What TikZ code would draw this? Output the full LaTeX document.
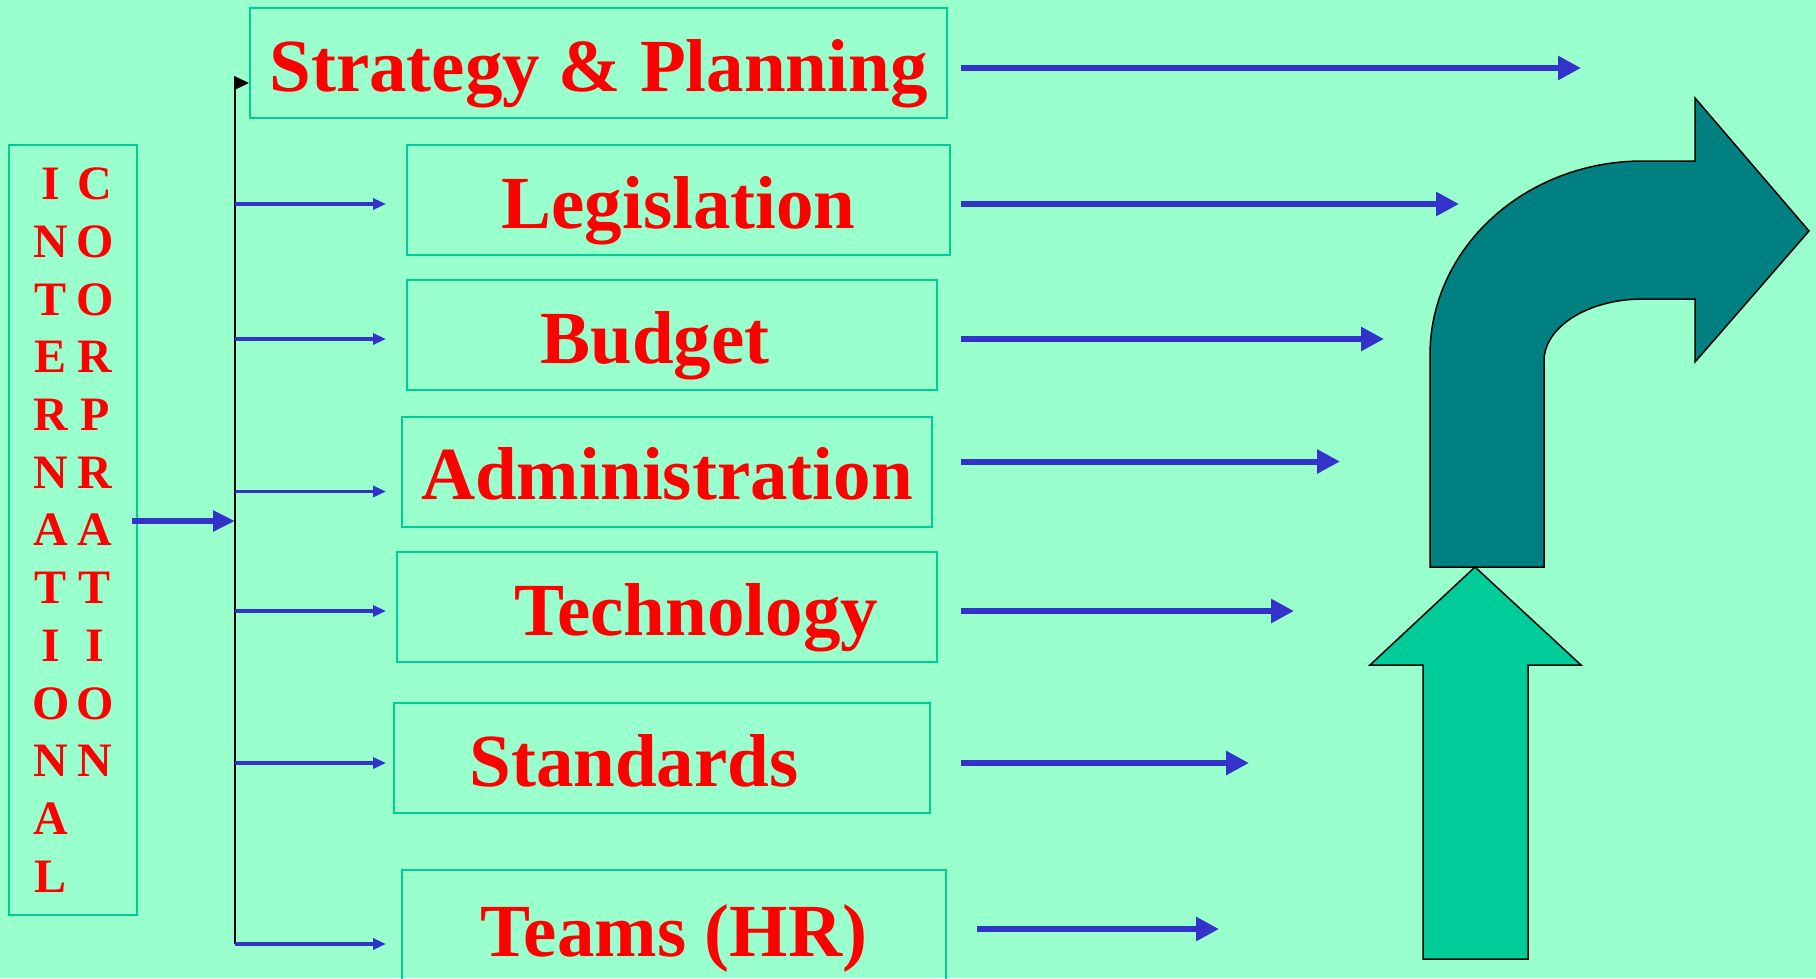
\documentclass[tikz,border=0pt]{standalone}
\usepackage{fontspec}
\setmainfont{Liberation Serif}
\usetikzlibrary{arrows.meta,positioning,calc}
\definecolor{orgbg}{RGB}{153,255,204}
\definecolor{orgframe}{RGB}{0,204,153}
\definecolor{orgtext}{RGB}{255,0,0}
\definecolor{orgflow}{RGB}{51,51,204}
\definecolor{orgturn}{RGB}{0,128,128}
\definecolor{orglift}{RGB}{0,204,153}
\tikzset{
  unit/.style={draw=orgframe,line width=2pt,text=orgtext,inner sep=0pt,
               font=\fontsize{75}{80}\selectfont\bfseries,minimum height=110pt,
               text height=56pt,text depth=0pt},
  spine/.style={draw=orgframe,line width=2pt,text=orgtext,inner sep=0pt,align=center,
               font=\fontsize{48}{57.7}\selectfont\bfseries},
  trunk/.style={-{Triangle[length=15pt,width=14pt]},draw=black,line width=1.5pt},
  branch/.style={-{Triangle[length=13pt,width=11pt]},draw=orgflow,line width=3.5pt},
  flow/.style={-{Triangle[length=23pt,width=23pt]},draw=orgflow,line width=6pt},
  bigarrow/.style={draw=black,line width=1.5pt,line join=miter},
}
\newcommand\lrow[2]{\makebox[44pt]{#1}\makebox[44pt]{#2}}

\begin{document}
\begin{tikzpicture}[x=1pt,y=-1pt]
\useasboundingbox (0,0) rectangle (1816,978);
\fill[orgbg] (0,0) rectangle (1816,978);
% source column
\node[spine,minimum width=128pt,minimum height=770pt] (intl) at (73,530)
 {\lrow{I}{C}\\\lrow{N}{O}\\\lrow{T}{O}\\\lrow{E}{R}\\\lrow{R}{P}\\\lrow{N}{R}\\
  \lrow{A}{A}\\\lrow{T}{T}\\\lrow{I}{I}\\\lrow{O}{O}\\\lrow{N}{N}\\\lrow{A}{}\\\lrow{L}{}};
% units
\node[unit,minimum width=697pt] (strat) at (598.5,63) {Strategy \& Planning};
\node[unit,minimum width=543pt] (leg) at (678.5,200) {Legislation};
\node[unit,minimum width=530pt] (bud) at (672,335) {Budget\hspace*{34pt}};
\node[unit,minimum width=530pt] (adm) at (667,471.5) {Administration};
\node[unit,minimum width=540pt] (tech) at (667,607) {\hspace*{58pt}Technology};
\node[unit,minimum width=536pt] (std) at (662,758) {Standards\hspace*{56pt}};
\node[unit,minimum width=544pt,minimum height=116pt] (team) at (674,928) {Teams (HR)};
\coordinate (foot) at (235,944);
\coordinate (tipx) at (386,0);
\coordinate (outx) at (961,0);
% distribution
\draw[flow,-{Triangle[length=22pt,width=20pt]}] ([xshift=-6pt,yshift=9pt]intl.east) -- ([yshift=9pt]intl.east -| foot);
\draw[trunk] (foot) |- ([yshift=-20pt]strat.west);
\foreach \b/\d in {leg/4,bud/4,adm/20,tech/4,std/5,team/16}
  \draw[branch] ([yshift=-\d pt]\b.west -| foot) -- ([yshift=-\d pt]\b.west -| tipx);
% outputs
\foreach \b/\d/\l in {strat/5/620,leg/4/498,bud/4/423,adm/-10/379,tech/4/333,std/5/288}
  \draw[flow] ([yshift=-\d pt]\b.east -| outx) -- ++(\l,0);
\draw[flow] ([xshift=30pt,yshift=-1pt]team.east) -- ++(242,0);
% turn arrow
\draw[bigarrow,fill=orgturn] (1430,567) -- (1430,355) .. controls (1430,248) and (1525,161) .. (1643,161)
  -- (1695,161) -- (1695,98) -- (1809,231) -- (1695,362) -- (1695,299) -- (1643,299)
  .. controls (1588,299) and (1544,327) .. (1544,361) -- (1544,567) -- cycle;
% lift arrow
\draw[bigarrow,fill=orglift] (1423,959) -- (1423,665) -- (1370,665) -- (1475,567)
  -- (1581,665) -- (1528,665) -- (1528,959) -- cycle;
\end{tikzpicture}
\end{document}
